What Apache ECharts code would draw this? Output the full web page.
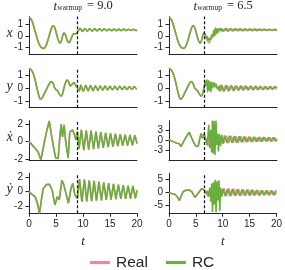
<!DOCTYPE html>
<html><head><meta charset="utf-8">
<script src="https://cdn.jsdelivr.net/npm/echarts@6/dist/echarts.min.js"></script>
<style>html,body{margin:0;padding:0;background:#fff}#c{width:285px;height:270px}</style>
</head><body><div id="c"></div>
<script>
// ---------- data ----------
const xTicks = [0, 5, 10, 15, 20];
const warmups = [9.0, 6.5];
const warmupText = ['9.0', '6.5'];
const varLabels = ['x', 'y', 'ẋ', 'ẏ'];
const yTicksLeft = [[-1, 0, 1], [-1, 0, 1], [-2, 0, 2], [-2, 0, 2]];
const yTicksRight = [[-1, 0, 1], [-1, 0, 1], [-3, 0, 3], [-5, 0, 5]];

// true trajectory [t, value]
const realX = [[0,1.62],[0.4,1.45],[0.8,0.95],[1.2,0.3],[1.6,-0.35],[2.0,-0.8],[2.4,-1.02],[2.8,-1.05],[3.2,-0.78],[3.6,-0.2],[4.0,0.45],[4.3,0.8],[4.55,0.88],[4.85,0.6],[5.2,0.0],[5.5,-0.45],[5.75,-0.62],[6.0,-0.4],[6.25,0.05],[6.5,0.28],[6.75,0.1],[7.05,-0.35],[7.4,-0.57],[7.7,-0.35],[8.0,0.0],[8.3,0.22],[8.6,0.18],[8.9,0.3],[9.2,0.5],[9.45,0.66],[9.9,0.4],[10.35,0.65],[10.8,0.42],[11.25,0.63],[11.7,0.43],[12.15,0.63],[12.6,0.44],[13.05,0.62],[13.5,0.45],[13.95,0.61],[14.4,0.45],[14.85,0.6],[15.3,0.46],[15.75,0.6],[16.2,0.46],[16.65,0.59],[17.1,0.47],[17.55,0.59],[18.0,0.47],[18.45,0.58],[18.9,0.47],[19.35,0.58],[19.8,0.48],[20,0.52]];
const realY = [[0,1.5],[0.4,1.38],[0.8,1.08],[1.2,0.5],[1.5,-0.05],[1.8,-0.55],[2.15,-0.86],[2.5,-0.72],[2.9,-0.38],[3.3,-0.05],[3.7,0.28],[4.1,0.48],[4.45,0.35],[4.75,0.0],[5.0,-0.12],[5.25,-0.18],[5.6,-0.45],[6.0,-0.62],[6.3,-0.3],[6.5,0.05],[6.85,0.5],[7.05,0.6],[7.35,0.45],[7.65,0.15],[8.0,0.28],[8.35,0.4],[8.7,0.15],[9.0,-0.03],[9.3,-0.22],[9.6,0.22],[10.05,-0.25],[10.5,0.2],[10.95,-0.22],[11.4,0.18],[11.85,-0.2],[12.3,0.16],[12.75,-0.18],[13.2,0.15],[13.65,-0.16],[14.1,0.14],[14.55,-0.15],[15.0,0.13],[15.45,-0.14],[15.9,0.12],[16.35,-0.13],[16.8,0.12],[17.25,-0.12],[17.7,0.11],[18.15,-0.12],[18.6,0.1],[19.05,-0.11],[19.5,0.1],[19.95,-0.1],[20,-0.08]];
const realXd = [[0,0.05],[0.5,-0.3],[1.0,-0.65],[1.5,-1.0],[1.75,-1.25],[1.9,-1.1],[2.2,-2.05],[2.7,-0.5],[3.2,1.0],[3.75,2.34],[4.2,0.6],[4.6,-0.8],[4.95,-1.85],[5.2,-1.8],[5.4,-1.9],[5.7,0.5],[5.95,2.0],[6.2,0.55],[6.5,1.9],[6.8,0.0],[7.25,-1.85],[7.55,1.1],[7.8,1.2],[8.05,1.35],[8.35,0.9],[8.7,0.2],[8.95,1.15],[9.25,-0.8],[9.7,1.35],[10.15,-0.95],[10.6,1.3],[11.05,-0.9],[11.5,1.25],[11.95,-0.85],[12.4,1.15],[12.85,-0.75],[13.3,1.1],[13.75,-0.7],[14.2,1.0],[14.65,-0.6],[15.1,0.95],[15.55,-0.55],[16.0,0.9],[16.45,-0.5],[16.9,0.85],[17.35,-0.45],[17.8,0.8],[18.25,-0.45],[18.7,0.78],[19.15,-0.4],[19.6,0.75],[20,-0.2]];
const realYd = [[0,0.0],[0.6,-0.4],[1.15,-0.7],[1.6,-1.75],[1.95,-3.0],[2.35,-0.9],[2.65,0.45],[3.25,1.0],[3.75,1.05],[3.9,1.15],[4.3,0.2],[4.8,-1.85],[5.25,-0.7],[5.6,-1.15],[6.1,1.6],[6.45,0.95],[6.75,0.8],[7.3,-1.6],[7.8,0.55],[8.1,1.15],[8.5,-0.45],[8.95,-0.95],[9.35,1.75],[9.8,-1.4],[10.25,1.7],[10.7,-1.35],[11.15,1.6],[11.6,-1.3],[12.05,1.5],[12.5,-1.25],[12.95,1.4],[13.4,-1.2],[13.85,1.3],[14.3,-1.15],[14.75,1.2],[15.2,-1.1],[15.65,1.1],[16.1,-1.05],[16.55,1.0],[17.0,-1.0],[17.45,0.92],[17.9,-0.98],[18.35,0.85],[18.8,-0.95],[19.25,0.8],[19.7,-0.93],[20,0.2]];

// reservoir computer prediction after the 6.5 warmup (right column) [t, value]
const rcX65 = [[6.5,0.28],[6.7,0.1],[6.9,-0.2],[7.1,-0.05],[7.3,-0.38],[7.5,-0.2],[7.7,-0.3],[7.9,0.1],[8.1,-0.1],[8.3,0.5],[8.45,0.0],[8.6,0.7],[8.75,0.2],[8.9,0.65],[9.05,0.3],[9.25,0.62],[9.5,0.45],[9.7,0.64],[10.15,0.43],[10.6,0.63],[11.05,0.44],[11.5,0.62],[11.95,0.45],[12.4,0.61],[12.85,0.46],[13.3,0.6],[13.75,0.46],[14.2,0.6],[14.65,0.47],[15.1,0.59],[15.55,0.47],[16.0,0.59],[16.45,0.47],[16.9,0.58],[17.35,0.48],[17.8,0.58],[18.25,0.48],[18.7,0.57],[19.15,0.48],[19.6,0.57],[20,0.5]];
const rcY65 = [[6.5,0.05],[6.7,0.45],[6.85,0.2],[7.0,0.58],[7.15,-0.3],[7.3,0.55],[7.45,-0.2],[7.6,0.5],[7.75,-0.3],[7.9,0.45],[8.05,0.0],[8.25,0.4],[8.45,0.05],[8.7,0.3],[9.0,-0.1],[9.3,0.15],[9.55,-0.2],[9.8,0.2],[10.25,-0.22],[10.7,0.18],[11.15,-0.2],[11.6,0.16],[12.05,-0.18],[12.5,0.15],[12.95,-0.16],[13.4,0.14],[13.85,-0.15],[14.3,0.13],[14.75,-0.14],[15.2,0.12],[15.65,-0.13],[16.1,0.12],[16.55,-0.12],[17.0,0.11],[17.45,-0.12],[17.9,0.1],[18.35,-0.11],[18.8,0.1],[19.25,-0.1],[19.7,0.1],[20,0.0]];
const rcXd65 = [[6.5,1.9],[6.8,0.3],[7.0,-1.5],[7.2,1.0],[7.35,4.6],[7.55,-2.5],[7.75,3.0],[7.9,-3.8],[8.05,5.9],[8.2,-4.2],[8.35,5.8],[8.5,-4.6],[8.7,5.9],[8.85,-1.5],[9.0,2.0],[9.15,-3.5],[9.35,1.8],[9.55,-1.8],[9.8,1.6],[10.0,-1.2],[10.3,1.4],[10.75,-0.9],[11.2,1.3],[11.65,-0.85],[12.1,1.2],[12.55,-0.8],[13.0,1.1],[13.45,-0.7],[13.9,1.05],[14.35,-0.65],[14.8,1.0],[15.25,-0.6],[15.7,0.95],[16.15,-0.5],[16.6,0.9],[17.05,-0.5],[17.5,0.85],[17.95,-0.45],[18.4,0.8],[18.85,-0.45],[19.3,0.78],[19.75,-0.4],[20,0.3]];
const rcYd65 = [[6.5,0.95],[6.8,0.5],[7.0,-0.6],[7.2,0.8],[7.4,-1.2],[7.6,2.0],[7.8,-3.5],[7.95,3.5],[8.1,-7.4],[8.25,4.0],[8.4,-4.5],[8.6,5.0],[8.75,-7.5],[8.95,4.5],[9.1,-3.0],[9.3,4.8],[9.45,-7.0],[9.6,2.0],[9.8,-1.5],[10.0,1.5],[10.45,-1.3],[10.9,1.5],[11.35,-1.25],[11.8,1.4],[12.25,-1.2],[12.7,1.3],[13.15,-1.15],[13.6,1.25],[14.05,-1.1],[14.5,1.15],[14.95,-1.05],[15.4,1.1],[15.85,-1.0],[16.3,1.0],[16.75,-1.0],[17.2,0.95],[17.65,-0.95],[18.1,0.9],[18.55,-0.95],[19.0,0.85],[19.45,-0.9],[19.9,0.8],[20,0.5]];

// ---------- chart ----------
const realSets = [realX, realY, realXd, realYd];
const rcTails = [rcX65, rcY65, rcXd65, rcYd65];
const REAL_C = '#ef8798', RC_C = '#6cae3e', INK = '#262626';
const colLeft = [29, 169], colW = 108;
const rowTop = [16.5, 68.5, 120.7, 173.2], rowBot = [54.3, 107.7, 160, 213.3];
const yRange = [
  [[-1.56, 1.67], [-1.56, 1.67]],
  [[-1.5, 1.48], [-1.5, 1.48]],
  [[-2.07, 2.38], [-6.1, 5.88]],
  [[-3.01, 2.58], [-7.92, 7.5]]
];
const grids = [], xAxes = [], yAxes = [], series = [];
const sans = 'Liberation Sans, Arial, sans-serif';
const serif = 'Liberation Serif, Times New Roman, serif';
for (let r = 0; r < 4; r++) {
  for (let c = 0; c < 2; c++) {
    const i = grids.length;
    grids.push({left: colLeft[c], width: colW, top: rowTop[r], height: rowBot[r] - rowTop[r]});
    const last = r === 3;
    xAxes.push({
      type: 'value', gridIndex: i, min: xTicks[0], max: xTicks[xTicks.length - 1], interval: 5,
      axisLine: {show: true, onZero: false, lineStyle: {color: INK, width: 1}},
      axisTick: {show: last, length: 3.5, lineStyle: {color: INK}},
      axisLabel: {show: last, fontSize: 10, color: INK, fontFamily: sans, margin: 6},
      splitLine: {show: false},
      name: last ? 't' : '', nameLocation: 'middle', nameGap: 22,
      nameTextStyle: {fontFamily: serif, fontStyle: 'italic', fontSize: 13, color: INK}
    });
    const ticks = c === 0 ? yTicksLeft[r] : yTicksRight[r];
    yAxes.push({
      type: 'value', gridIndex: i, min: yRange[r][c][0], max: yRange[r][c][1],
      axisLine: {show: true, onZero: false, lineStyle: {color: INK, width: 1}},
      axisTick: {show: true, length: 3.5, customValues: ticks, lineStyle: {color: INK}},
      axisLabel: {fontSize: 10, color: INK, fontFamily: sans, margin: 6, customValues: ticks},
      splitLine: {show: false}
    });
    const real = realSets[r];
    const rc = c === 0 ? real : real.filter(p => p[0] < 6.5).concat(rcTails[r]);
    series.push({
      name: 'Real', type: 'line', xAxisIndex: i, yAxisIndex: i, data: real,
      showSymbol: false, symbol: 'none', smooth: r < 2 ? 0.35 : false,
      lineStyle: {color: REAL_C, width: 1.6}, itemStyle: {color: REAL_C}, z: 2
    });
    series.push({
      name: 'RC', type: 'line', xAxisIndex: i, yAxisIndex: i, data: rc,
      showSymbol: false, symbol: 'none', smooth: r < 2 ? 0.35 : false,
      lineStyle: {color: RC_C, width: 1.6}, itemStyle: {color: RC_C}, z: 3,
      markLine: {
        silent: true, symbol: 'none', label: {show: false},
        lineStyle: {color: '#111', type: [3, 2], width: 1.2},
        data: [{xAxis: warmups[c]}]
      }
    });
  }
}

const graphic = [];
const ylabY = [33.5, 86, 137, 189];
for (let r = 0; r < 4; r++) {
  graphic.push({type: 'text', left: null, x: 9.5, y: ylabY[r],
    style: {text: varLabels[r], font: 'italic 14px ' + serif, fill: INK, textAlign: 'center', textVerticalAlign: 'middle'}});
}
for (let c = 0; c < 2; c++) {
  const ox = c * 140;
  graphic.push({type: 'text', x: 55.3 + ox, y: 6.2,
    style: {text: 't', font: 'italic 13px ' + serif, fill: INK, textAlign: 'center', textVerticalAlign: 'middle'}});
  graphic.push({type: 'text', x: 57.3 + ox, y: 8.2,
    style: {text: 'warmup', font: '7.5px ' + serif, fill: INK, textAlign: 'left', textVerticalAlign: 'middle'}});
  graphic.push({type: 'text', x: 87 + ox, y: 6.2,
    style: {text: '= ' + warmupText[c], font: '12.5px ' + serif, fill: INK, textAlign: 'left', textVerticalAlign: 'middle'}});
}

const chart = echarts.init(document.getElementById('c'), null, {renderer: 'canvas'});
chart.setOption({
  animation: false,
  backgroundColor: '#fff',
  grid: grids, xAxis: xAxes, yAxis: yAxes, series: series,
  legend: {
    data: ['Real', 'RC'], left: 90, top: 254.5, padding: 0,
    icon: 'rect', itemWidth: 20, itemHeight: 3.2, itemGap: 18,
    textStyle: {fontSize: 15.5, fontFamily: sans, color: INK, padding: [0, 0, 0, 1]}
  },
  graphic: graphic
});
</script>
</body></html>
